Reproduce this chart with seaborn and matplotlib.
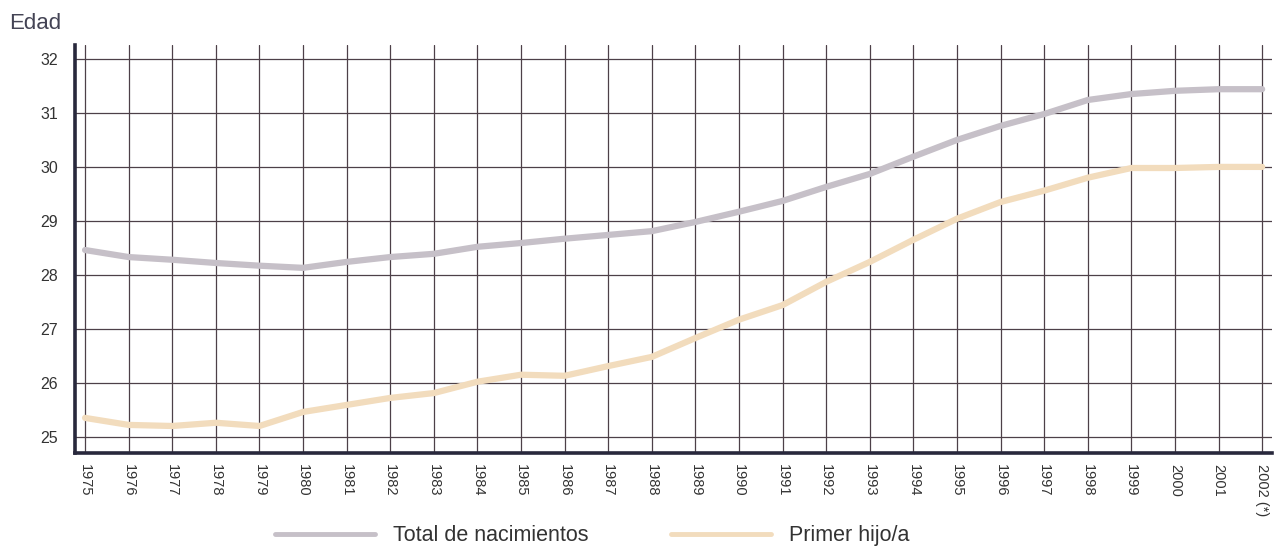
import pandas as pd
import seaborn as sns
import matplotlib.pyplot as plt

# Mean age of mothers at childbirth
years = list(range(1975, 2003))
total = [28.46, 28.33, 28.28, 28.22, 28.17, 28.13, 28.24, 28.33, 28.39, 28.52,
         28.59, 28.67, 28.74, 28.81, 28.98, 29.17, 29.37, 29.63, 29.87, 30.19,
         30.50, 30.76, 30.98, 31.24, 31.35, 31.41, 31.44, 31.44]
primer = [25.35, 25.22, 25.20, 25.26, 25.20, 25.46, 25.59, 25.72, 25.81, 26.02,
          26.15, 26.13, 26.31, 26.48, 26.83, 27.17, 27.44, 27.87, 28.24, 28.65,
          29.04, 29.35, 29.56, 29.80, 29.98, 29.98, 30.00, 30.00]
series_names = ['Total de nacimientos', 'Primer hijo/a']
year_labels = [str(y) for y in years[:-1]] + ['2002 (*)']
y_ticks = [25, 26, 27, 28, 29, 30, 31, 32]

# Long-form table for seaborn
df = pd.DataFrame({
    'Año': years * 2,
    'Edad': total + primer,
    'Serie': [series_names[0]] * len(years) + [series_names[1]] * len(years),
})

sns.set_style('white')
plt.rcParams['font.family'] = ['Liberation Sans', 'DejaVu Sans']

fig = plt.figure(figsize=(12.76, 5.48), dpi=100)
ax = fig.add_axes([0.0588, 0.1734, 0.9382, 0.7446])

grid_color = '#4d4048'
sns.lineplot(data=df, x='Año', y='Edad', hue='Serie', ax=ax,
             palette=['#c6c0c8', '#f2dcbd'], linewidth=4.5, legend=False)

ax.set_xlim(1974.77, 2002.23)
ax.set_ylim(24.70, 32.26)
ax.set_xticks(years)
ax.set_xticklabels(year_labels, rotation=270, fontsize=10.5, color='#333333')
ax.set_yticks(y_ticks)
ax.set_yticklabels([str(v) for v in y_ticks], fontsize=11.5, color='#333333')
ax.tick_params(axis='both', length=0)
ax.tick_params(axis='x', pad=8)
ax.tick_params(axis='y', pad=12)
ax.set_xlabel('')
ax.set_ylabel('')

# grid lines drawn beneath the series
ax.grid(True, color=grid_color, linewidth=0.9)
ax.set_axisbelow(True)

for side in ['top', 'right']:
    ax.spines[side].set_visible(False)
for side in ['left', 'bottom']:
    ax.spines[side].set_color('#28283c')
    ax.spines[side].set_linewidth(2.6)

fig.text(0.007, 0.957, 'Edad', fontsize=16, color='#444455', va='center')

# legend below the plot
handles = [plt.Line2D([], [], color='#c6c0c8', linewidth=3.5),
           plt.Line2D([], [], color='#f2dcbd', linewidth=3.5)]
fig.legend(handles, series_names, loc='center', bbox_to_anchor=(0.464, 0.022),
           ncol=2, frameon=False, fontsize=15.5, handlelength=4.65,
           handletextpad=0.85, columnspacing=3.8, labelcolor='#333333')

plt.savefig('out.png', dpi=100)
